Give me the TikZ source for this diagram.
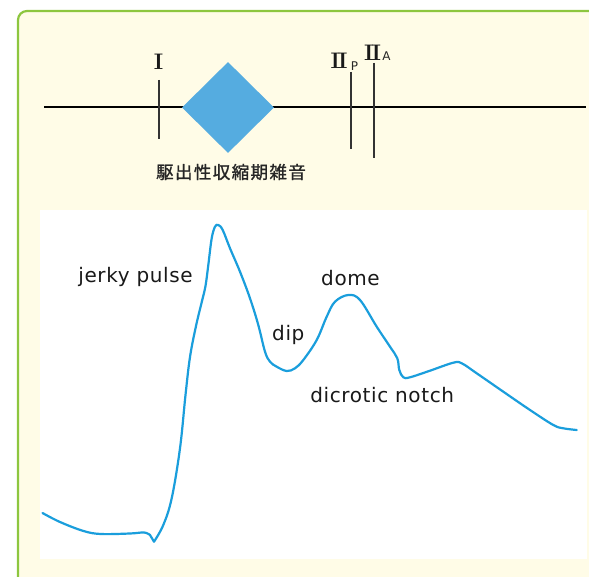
\documentclass[tikz,border=0pt]{standalone}
\usepackage{fontspec}
\usetikzlibrary{shapes.geometric}
\newfontfamily\cjk[FakeBold=1.2]{Noto Sans CJK JP}
\newfontfamily\lab[LetterSpace=3]{DejaVu Sans}
\newfontfamily\subf{DejaVu Sans}
\definecolor{creambg}{RGB}{255,252,231}
\definecolor{bordergreen}{RGB}{141,198,63}
\definecolor{diamondblue}{RGB}{85,172,224}
\definecolor{curveblue}{RGB}{26,158,220}
\begin{document}
\begin{tikzpicture}[x=1pt,y=-1pt,
  tickline/.style={line width=1.3pt, draw=black!80},
  wave/.style={draw=curveblue, line width=2.2pt, line join=round, line cap=round},
  lbl/.style={font=\lab\fontsize{20}{20}\selectfont, text=black!90, inner sep=0pt, anchor=base},
  roman/.style={font=\fontsize{22.5}{22.5}\selectfont\bfseries, text=black!90, inner sep=0pt},
  subl/.style={font=\subf\fontsize{12}{12}\selectfont, text=black!85, inner sep=0pt}]
\useasboundingbox (0,0) rectangle (589,577);
\begin{scope}
\clip (0,0) rectangle (589,577);
\draw[line width=2.2pt, draw=bordergreen, fill=creambg, rounded corners=9pt] (18,11) rectangle (620,610);
\end{scope}
\fill[white] (40,210) rectangle (587,559);
% axis line
\coordinate (L0) at (44,107);
\coordinate (L1) at (586,107);
\draw[line width=1.2pt] (L0) -- (L1);
% murmur diamond
\node[diamond, fill=diamondblue, minimum width=92pt, minimum height=91pt, inner sep=0pt] (mur) at (228,107.5) {};
\node[font=\cjk\addfontfeature{LetterSpace=8}\fontsize{17.5}{17.5}\selectfont, text=black!85, inner sep=0pt] (murlab) at (231,172) {駆出性収縮期雑音};
% tick I
\coordinate (t1a) at (159,80);
\coordinate (t1b) at (159,139);
\draw[tickline] (t1a) -- (t1b);
\node[roman] (lI) at (158.5,61.5) {I};
% tick IIp
\coordinate (t2a) at (351,72);
\coordinate (t2b) at (351,149);
\draw[tickline] (t2a) -- (t2b);
\node[roman] (lIIp) at (339,60.5) {I\kern-2ptI};
\node[subl] (lP) at (354.5,66) {P};
% tick IIa
\coordinate (t3a) at (374,63);
\coordinate (t3b) at (374,158);
\draw[tickline] (t3a) -- (t3b);
\node[roman] (lIIa) at (372.5,52.5) {I\kern-2ptI};
\node[subl] (lA) at (386.5,56.5) {A};
% pulse wave
\draw[wave] plot[smooth, tension=0.6] coordinates {
  (42.5,513) (60,522) (83.5,531) (101,534) (130,533.5) (144,532.5) (150,535) }
  -- (154,541.7)
  -- plot[smooth, tension=0.6] coordinates {
  (154,541.7) (163.3,525) (171.7,498.3) (180,448.3) (185.5,395) (190,357)
  (196,326) (202,301) (205.5,286) (208.3,265) (211.7,238.3) (215,226.7)
  (218.3,225) (222.7,230) (230,248.3) (240,271.7) (250,298.3) (258.3,325)
  (265,351.7) (270,361.7) (276.7,366.7) (286.7,371) (295,368.3)
  (303.3,360) (316.7,340) (326.7,316.7) (335,301.7) (348.3,295) (360,300)
  (376.7,326.7) (390,346.7) (397.3,358.3) (399.3,370) (403.3,377.3)
  (410,377.3) (430,370.7) (453.3,362.7) (461.7,363.3) (476.7,373.3)
  (503.3,391.7) (530,410) (553.3,425) (563.3,428.3) (576.7,430) };
% labels
\node[lbl] (jerky) at (135.5,282.7) {jerky pulse};
\node[lbl] (dome) at (350.5,286) {dome};
\node[lbl] (dip) at (288.3,341) {dip};
\node[lbl] (notch) at (382.2,402.7) {dicrotic notch};
\end{tikzpicture}
\end{document}
